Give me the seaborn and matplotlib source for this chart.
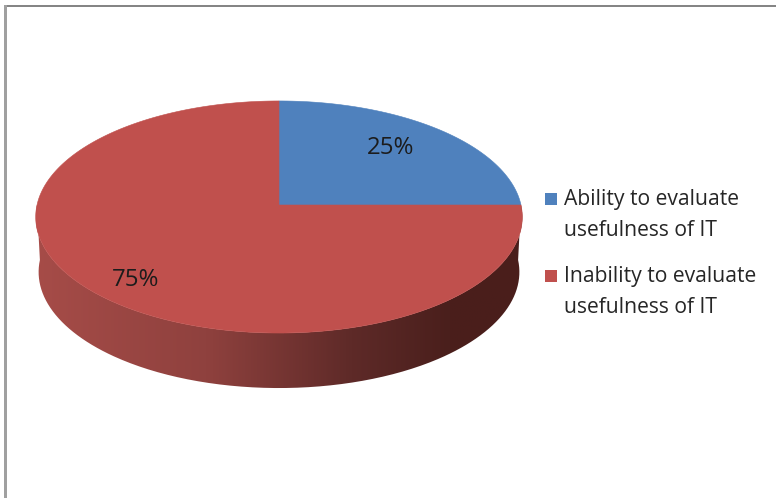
import numpy as np
import matplotlib
matplotlib.use("Agg")
import matplotlib.pyplot as plt
from matplotlib.colors import LinearSegmentedColormap
from matplotlib.patches import PathPatch, Rectangle
from matplotlib.path import Path
from matplotlib.transforms import Affine2D
import seaborn as sns

categories = ["Ability to evaluate\nusefulness of IT", "Inability to evaluate\nusefulness of IT"]
values = [25, 75]
labels = ["25%", "75%"]
colors = ["#4F81BD", "#C0504D"]

W, H = 776, 498
sns.set_theme(style="white")
plt.rcParams["font.family"] = ["Open Sans", "DejaVu Sans"]
fig = plt.figure(figsize=(W / 100, H / 100), dpi=100, facecolor="white")

# pie geometry in unit-circle coordinates, projected with perspective to pixels
CX, CY, B, A, K, DEPTH = 279, 205, 242, 114.8, 0.1034, 55


def project(x, y):
    w = 1 + K * y
    return CX + B * x / w, CY - A * y / w


ax = fig.add_axes([0, 0, 1, 1])
wedges, _ = ax.pie(values, colors=colors, startangle=0, counterclock=True,
                   wedgeprops=dict(linewidth=0))
SCALE = 2000.0
polys = [w.get_path().to_polygons(transform=Affine2D().scale(SCALE), closed_only=False)[0] / SCALE
         for w in wedges]
for w in wedges:
    w.remove()
ax.set_aspect("auto")
ax.set_xlim(0, W)
ax.set_ylim(H, 0)
ax.axis("off")

# side wall with horizontal gradient, clipped to the band beneath the front rim
t = np.linspace(np.pi, 2 * np.pi, 300)
tx, ty = project(np.cos(t), np.sin(t))
# outer wall edge narrows slightly towards the bottom
bx = CX + (tx - CX) * 0.988
by = ty + DEPTH
wall = np.vstack([np.column_stack([tx, ty]), np.column_stack([bx, by])[::-1], [[tx[0], ty[0]]]])
stops = [(0.0, "#A64C48"), (0.35, "#8F413E"), (0.65, "#5E2A28"), (0.85, "#4A1F1C"), (1.0, "#4A1E1B")]
cmap = LinearSegmentedColormap.from_list("wall", stops)
grad = np.linspace(0, 1, 256).reshape(1, -1)
im = ax.imshow(grad, cmap=cmap, extent=(tx.min(), tx.max(), by.max() + 2, ty.min() - 2),
               aspect="auto", zorder=1, interpolation="bilinear")
clip = PathPatch(Path(wall), transform=ax.transData, facecolor="none", edgecolor="none")
ax.add_patch(clip)
im.set_clip_path(clip)
ax.set_xlim(0, W)
ax.set_ylim(H, 0)

# top faces from the pie's wedges
for poly, color in zip(polys, colors):
    px, py = project(poly[:, 0], poly[:, 1])
    ax.fill(px, py, color=color, linewidth=0.4, zorder=2)

# percent labels
ax.text(391, 148, labels[0], ha="center", va="center", fontsize=17.3, color="#1c1c1c", zorder=3)
ax.text(136, 280, labels[1], ha="center", va="center", fontsize=17.3, color="#1c1c1c", zorder=3)

# legend
for y, color, text in zip([198, 275], colors, categories):
    ax.add_patch(Rectangle((544.5, y - 5.5), 12, 12, facecolor=color, edgecolor="none", zorder=3))
    ax.text(564, y + 17, text, ha="left", va="center", fontsize=15.2, color="#262626",
            linespacing=1.62, zorder=3)

# screenshot frame: top and left grey lines
ax.add_patch(Rectangle((4, 5), W - 4, 1.8, facecolor="#858585", edgecolor="none", zorder=4))
ax.add_patch(Rectangle((4, 5), 3.2, H - 5, facecolor="#A0A0A0", edgecolor="none", zorder=4))

fig.savefig("out.png", dpi=100, facecolor="white")
